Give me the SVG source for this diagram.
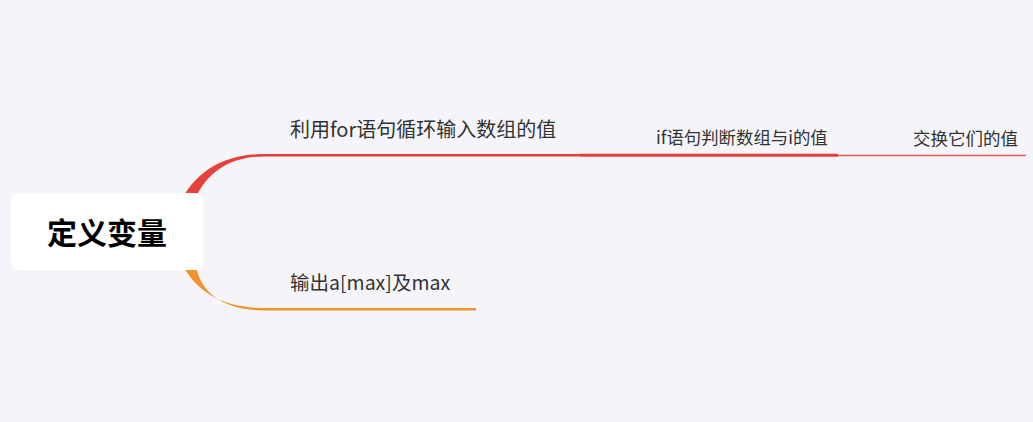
<svg xmlns="http://www.w3.org/2000/svg" width="1033" height="422" viewBox="0 0 1033 422">
<style>
.t{font-family:"Noto Sans CJK SC","Noto Sans",sans-serif;fill:#333333}
.root{font-family:"Noto Sans CJK SC",sans-serif;font-weight:bold;font-size:30px;fill:#000}
</style>
<rect width="1033" height="422" fill="#f5f5f9"/>
<g id="connectors">
<path d="M183,197 C198,172 222,154 265,154 L580,154 L580,156.5 L265,156.5 C230,156.5 208,172 196,197 Z" fill="#e8403c"/>
<path d="M580,153.8 L838,153.8 L838,156.8 L580,156.8 Z" fill="#e3403e"/>
<line x1="838" y1="155.5" x2="1026" y2="155.5" stroke="#e85858" stroke-width="1.5"/>
<path d="M183,266 C198,292 222,308 265,308 L476,308 L476,310.5 L265,310.5 C225,310.5 201,294 196,266 Z" fill="#f0932b"/>
</g>
<g id="root">
<rect x="11" y="193" width="192" height="77" rx="8" fill="#ffffff"/>
<text class="root" x="107" y="244" text-anchor="middle">定义变量</text>
</g>
<g id="n1"><text class="t" x="290" y="137" font-size="20">利用for语句循环输入数组的值</text></g>
<g id="n2"><text class="t" x="656" y="144" font-size="17.4">if语句判断数组与i的值</text></g>
<g id="n3"><text class="t" x="913" y="145" font-size="17.5">交换它们的值</text></g>
<g id="n4"><text class="t" x="290" y="290" font-size="19.5">输出a[max]及max</text></g>
</svg>
